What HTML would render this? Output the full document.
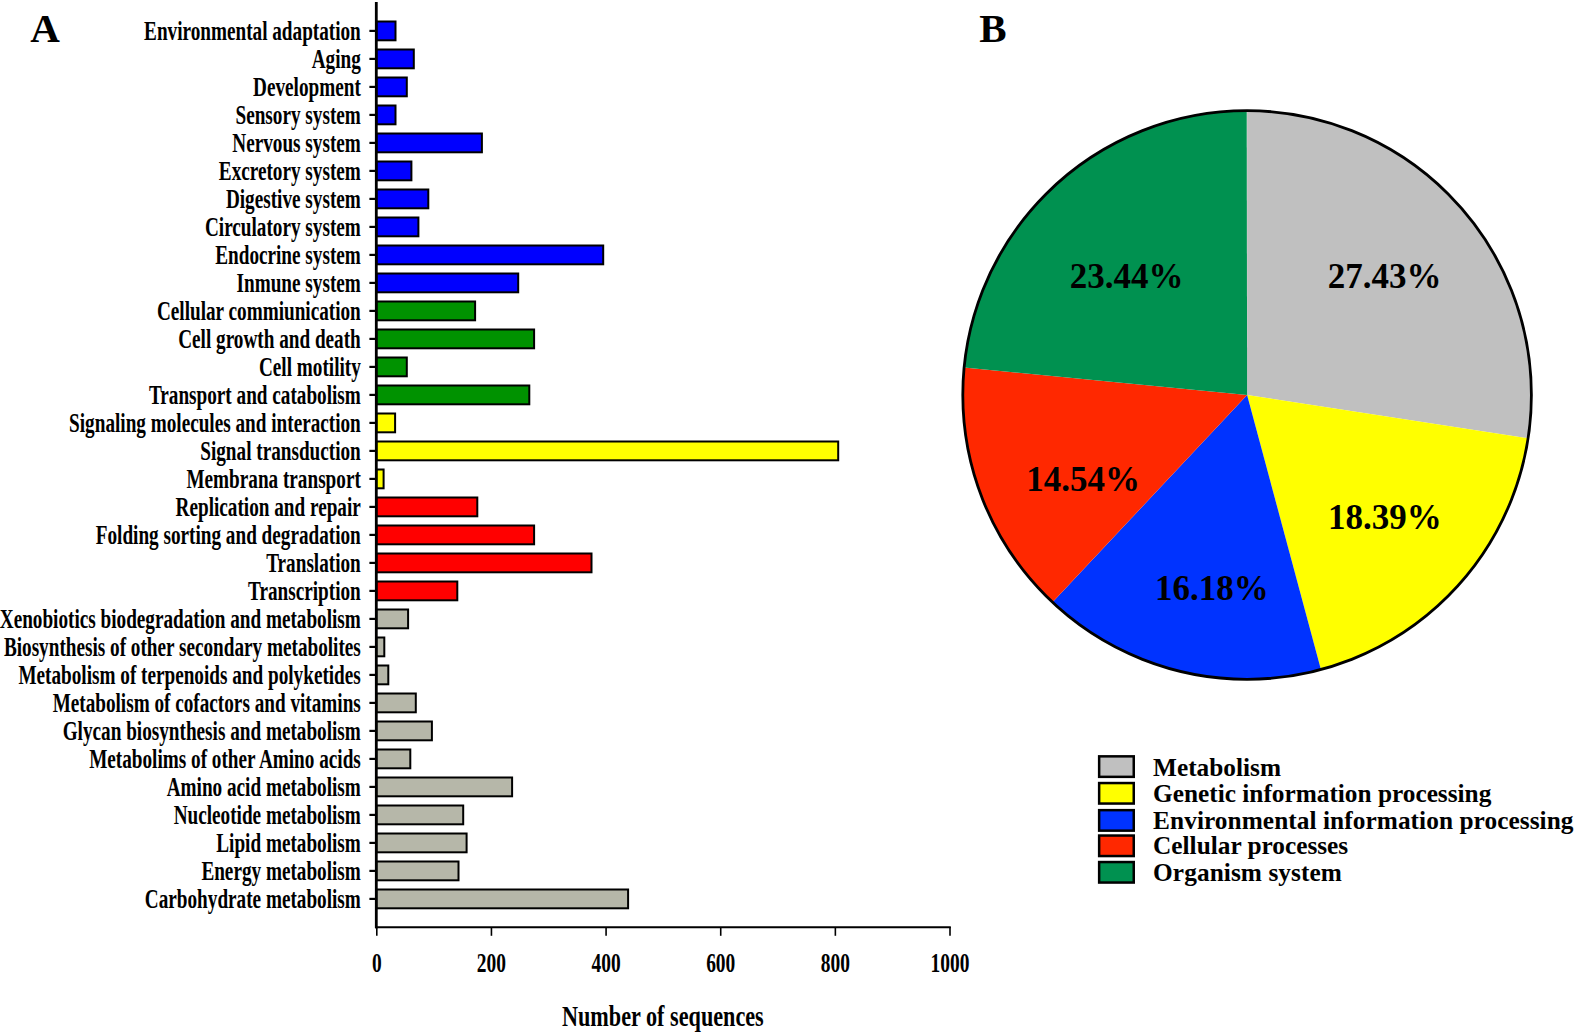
<!DOCTYPE html><html><head><meta charset="utf-8"><style>html,body{margin:0;padding:0;background:#fff;}svg{display:block}text{font-family:"Liberation Serif",serif;font-weight:bold;fill:#000}</style></head><body>
<svg width="1575" height="1034" viewBox="0 0 1575 1034">
<text x="30.3" y="41.75" font-size="41">A</text>
<text x="979.2" y="41.75" font-size="41">B</text>
<rect x="376.30" y="21.50" width="19.20" height="18.80" fill="#0000FF" stroke="#000" stroke-width="2.0"/>
<line x1="369.4" y1="30.90" x2="376.30" y2="30.90" stroke="#000" stroke-width="2.2"/>
<text transform="translate(360.8,40.10) scale(0.725,1)" text-anchor="end" font-size="26.5">Environmental adaptation</text>
<rect x="376.30" y="49.50" width="37.50" height="18.80" fill="#0000FF" stroke="#000" stroke-width="2.0"/>
<line x1="369.4" y1="58.90" x2="376.30" y2="58.90" stroke="#000" stroke-width="2.2"/>
<text transform="translate(360.8,68.10) scale(0.725,1)" text-anchor="end" font-size="26.5">Aging</text>
<rect x="376.30" y="77.50" width="30.50" height="18.80" fill="#0000FF" stroke="#000" stroke-width="2.0"/>
<line x1="369.4" y1="86.90" x2="376.30" y2="86.90" stroke="#000" stroke-width="2.2"/>
<text transform="translate(360.8,96.10) scale(0.725,1)" text-anchor="end" font-size="26.5">Development</text>
<rect x="376.30" y="105.50" width="19.20" height="18.80" fill="#0000FF" stroke="#000" stroke-width="2.0"/>
<line x1="369.4" y1="114.90" x2="376.30" y2="114.90" stroke="#000" stroke-width="2.2"/>
<text transform="translate(360.8,124.10) scale(0.725,1)" text-anchor="end" font-size="26.5">Sensory system</text>
<rect x="376.30" y="133.50" width="105.60" height="18.80" fill="#0000FF" stroke="#000" stroke-width="2.0"/>
<line x1="369.4" y1="142.90" x2="376.30" y2="142.90" stroke="#000" stroke-width="2.2"/>
<text transform="translate(360.8,152.10) scale(0.725,1)" text-anchor="end" font-size="26.5">Nervous system</text>
<rect x="376.30" y="161.50" width="35.10" height="18.80" fill="#0000FF" stroke="#000" stroke-width="2.0"/>
<line x1="369.4" y1="170.90" x2="376.30" y2="170.90" stroke="#000" stroke-width="2.2"/>
<text transform="translate(360.8,180.10) scale(0.725,1)" text-anchor="end" font-size="26.5">Excretory system</text>
<rect x="376.30" y="189.50" width="52.00" height="18.80" fill="#0000FF" stroke="#000" stroke-width="2.0"/>
<line x1="369.4" y1="198.90" x2="376.30" y2="198.90" stroke="#000" stroke-width="2.2"/>
<text transform="translate(360.8,208.10) scale(0.725,1)" text-anchor="end" font-size="26.5">Digestive system</text>
<rect x="376.30" y="217.50" width="42.10" height="18.80" fill="#0000FF" stroke="#000" stroke-width="2.0"/>
<line x1="369.4" y1="226.90" x2="376.30" y2="226.90" stroke="#000" stroke-width="2.2"/>
<text transform="translate(360.8,236.10) scale(0.725,1)" text-anchor="end" font-size="26.5">Circulatory system</text>
<rect x="376.30" y="245.50" width="226.90" height="18.80" fill="#0000FF" stroke="#000" stroke-width="2.0"/>
<line x1="369.4" y1="254.90" x2="376.30" y2="254.90" stroke="#000" stroke-width="2.2"/>
<text transform="translate(360.8,264.10) scale(0.725,1)" text-anchor="end" font-size="26.5">Endocrine system</text>
<rect x="376.30" y="273.50" width="141.90" height="18.80" fill="#0000FF" stroke="#000" stroke-width="2.0"/>
<line x1="369.4" y1="282.90" x2="376.30" y2="282.90" stroke="#000" stroke-width="2.2"/>
<text transform="translate(360.8,292.10) scale(0.725,1)" text-anchor="end" font-size="26.5">Inmune system</text>
<rect x="376.30" y="301.50" width="98.80" height="18.80" fill="#009200" stroke="#000" stroke-width="2.0"/>
<line x1="369.4" y1="310.90" x2="376.30" y2="310.90" stroke="#000" stroke-width="2.2"/>
<text transform="translate(360.8,320.10) scale(0.725,1)" text-anchor="end" font-size="26.5">Cellular commiunication</text>
<rect x="376.30" y="329.50" width="157.80" height="18.80" fill="#009200" stroke="#000" stroke-width="2.0"/>
<line x1="369.4" y1="338.90" x2="376.30" y2="338.90" stroke="#000" stroke-width="2.2"/>
<text transform="translate(360.8,348.10) scale(0.725,1)" text-anchor="end" font-size="26.5">Cell growth and death</text>
<rect x="376.30" y="357.50" width="30.50" height="18.80" fill="#009200" stroke="#000" stroke-width="2.0"/>
<line x1="369.4" y1="366.90" x2="376.30" y2="366.90" stroke="#000" stroke-width="2.2"/>
<text transform="translate(360.8,376.10) scale(0.725,1)" text-anchor="end" font-size="26.5">Cell motility</text>
<rect x="376.30" y="385.50" width="153.00" height="18.80" fill="#009200" stroke="#000" stroke-width="2.0"/>
<line x1="369.4" y1="394.90" x2="376.30" y2="394.90" stroke="#000" stroke-width="2.2"/>
<text transform="translate(360.8,404.10) scale(0.725,1)" text-anchor="end" font-size="26.5">Transport and catabolism</text>
<rect x="376.30" y="413.50" width="18.80" height="18.80" fill="#FFFF00" stroke="#000" stroke-width="2.0"/>
<line x1="369.4" y1="422.90" x2="376.30" y2="422.90" stroke="#000" stroke-width="2.2"/>
<text transform="translate(360.8,432.10) scale(0.725,1)" text-anchor="end" font-size="26.5">Signaling molecules and interaction</text>
<rect x="376.30" y="441.50" width="461.90" height="18.80" fill="#FFFF00" stroke="#000" stroke-width="2.0"/>
<line x1="369.4" y1="450.90" x2="376.30" y2="450.90" stroke="#000" stroke-width="2.2"/>
<text transform="translate(360.8,460.10) scale(0.725,1)" text-anchor="end" font-size="26.5">Signal transduction</text>
<rect x="376.30" y="469.50" width="7.30" height="18.80" fill="#FFFF00" stroke="#000" stroke-width="2.0"/>
<line x1="369.4" y1="478.90" x2="376.30" y2="478.90" stroke="#000" stroke-width="2.2"/>
<text transform="translate(360.8,488.10) scale(0.725,1)" text-anchor="end" font-size="26.5">Membrana transport</text>
<rect x="376.30" y="497.50" width="101.00" height="18.80" fill="#FF0000" stroke="#000" stroke-width="2.0"/>
<line x1="369.4" y1="506.90" x2="376.30" y2="506.90" stroke="#000" stroke-width="2.2"/>
<text transform="translate(360.8,516.10) scale(0.725,1)" text-anchor="end" font-size="26.5">Replication and repair</text>
<rect x="376.30" y="525.50" width="157.80" height="18.80" fill="#FF0000" stroke="#000" stroke-width="2.0"/>
<line x1="369.4" y1="534.90" x2="376.30" y2="534.90" stroke="#000" stroke-width="2.2"/>
<text transform="translate(360.8,544.10) scale(0.725,1)" text-anchor="end" font-size="26.5">Folding sorting and degradation</text>
<rect x="376.30" y="553.50" width="215.20" height="18.80" fill="#FF0000" stroke="#000" stroke-width="2.0"/>
<line x1="369.4" y1="562.90" x2="376.30" y2="562.90" stroke="#000" stroke-width="2.2"/>
<text transform="translate(360.8,572.10) scale(0.725,1)" text-anchor="end" font-size="26.5">Translation</text>
<rect x="376.30" y="581.50" width="81.00" height="18.80" fill="#FF0000" stroke="#000" stroke-width="2.0"/>
<line x1="369.4" y1="590.90" x2="376.30" y2="590.90" stroke="#000" stroke-width="2.2"/>
<text transform="translate(360.8,600.10) scale(0.725,1)" text-anchor="end" font-size="26.5">Transcription</text>
<rect x="376.30" y="609.50" width="31.80" height="18.80" fill="#B6B7A9" stroke="#000" stroke-width="2.0"/>
<line x1="369.4" y1="618.90" x2="376.30" y2="618.90" stroke="#000" stroke-width="2.2"/>
<text transform="translate(360.8,628.10) scale(0.725,1)" text-anchor="end" font-size="26.5">Xenobiotics biodegradation and metabolism</text>
<rect x="376.30" y="637.50" width="8.00" height="18.80" fill="#B6B7A9" stroke="#000" stroke-width="2.0"/>
<line x1="369.4" y1="646.90" x2="376.30" y2="646.90" stroke="#000" stroke-width="2.2"/>
<text transform="translate(360.8,656.10) scale(0.725,1)" text-anchor="end" font-size="26.5">Biosynthesis of other secondary metabolites</text>
<rect x="376.30" y="665.50" width="12.00" height="18.80" fill="#B6B7A9" stroke="#000" stroke-width="2.0"/>
<line x1="369.4" y1="674.90" x2="376.30" y2="674.90" stroke="#000" stroke-width="2.2"/>
<text transform="translate(360.8,684.10) scale(0.725,1)" text-anchor="end" font-size="26.5">Metabolism of terpenoids and polyketides</text>
<rect x="376.30" y="693.50" width="39.50" height="18.80" fill="#B6B7A9" stroke="#000" stroke-width="2.0"/>
<line x1="369.4" y1="702.90" x2="376.30" y2="702.90" stroke="#000" stroke-width="2.2"/>
<text transform="translate(360.8,712.10) scale(0.725,1)" text-anchor="end" font-size="26.5">Metabolism of cofactors and vitamins</text>
<rect x="376.30" y="721.50" width="55.60" height="18.80" fill="#B6B7A9" stroke="#000" stroke-width="2.0"/>
<line x1="369.4" y1="730.90" x2="376.30" y2="730.90" stroke="#000" stroke-width="2.2"/>
<text transform="translate(360.8,740.10) scale(0.725,1)" text-anchor="end" font-size="26.5">Glycan biosynthesis and metabolism</text>
<rect x="376.30" y="749.50" width="34.00" height="18.80" fill="#B6B7A9" stroke="#000" stroke-width="2.0"/>
<line x1="369.4" y1="758.90" x2="376.30" y2="758.90" stroke="#000" stroke-width="2.2"/>
<text transform="translate(360.8,768.10) scale(0.725,1)" text-anchor="end" font-size="26.5">Metabolims of other Amino acids</text>
<rect x="376.30" y="777.50" width="135.80" height="18.80" fill="#B6B7A9" stroke="#000" stroke-width="2.0"/>
<line x1="369.4" y1="786.90" x2="376.30" y2="786.90" stroke="#000" stroke-width="2.2"/>
<text transform="translate(360.8,796.10) scale(0.725,1)" text-anchor="end" font-size="26.5">Amino acid metabolism</text>
<rect x="376.30" y="805.50" width="86.90" height="18.80" fill="#B6B7A9" stroke="#000" stroke-width="2.0"/>
<line x1="369.4" y1="814.90" x2="376.30" y2="814.90" stroke="#000" stroke-width="2.2"/>
<text transform="translate(360.8,824.10) scale(0.725,1)" text-anchor="end" font-size="26.5">Nucleotide metabolism</text>
<rect x="376.30" y="833.50" width="90.30" height="18.80" fill="#B6B7A9" stroke="#000" stroke-width="2.0"/>
<line x1="369.4" y1="842.90" x2="376.30" y2="842.90" stroke="#000" stroke-width="2.2"/>
<text transform="translate(360.8,852.10) scale(0.725,1)" text-anchor="end" font-size="26.5">Lipid metabolism</text>
<rect x="376.30" y="861.50" width="82.20" height="18.80" fill="#B6B7A9" stroke="#000" stroke-width="2.0"/>
<line x1="369.4" y1="870.90" x2="376.30" y2="870.90" stroke="#000" stroke-width="2.2"/>
<text transform="translate(360.8,880.10) scale(0.725,1)" text-anchor="end" font-size="26.5">Energy metabolism</text>
<rect x="376.30" y="889.50" width="251.80" height="18.80" fill="#B6B7A9" stroke="#000" stroke-width="2.0"/>
<line x1="369.4" y1="898.90" x2="376.30" y2="898.90" stroke="#000" stroke-width="2.2"/>
<text transform="translate(360.8,908.10) scale(0.725,1)" text-anchor="end" font-size="26.5">Carbohydrate metabolism</text>
<line x1="376.3" y1="2" x2="376.3" y2="928.2" stroke="#000" stroke-width="2.8"/>
<line x1="375" y1="927.2" x2="950.8" y2="927.2" stroke="#000" stroke-width="2"/>
<line x1="376.80" y1="927" x2="376.80" y2="935.8" stroke="#000" stroke-width="1.6"/>
<text transform="translate(376.80,971.6) scale(0.71,1)" text-anchor="middle" font-size="27.4">0</text>
<line x1="491.44" y1="927" x2="491.44" y2="935.8" stroke="#000" stroke-width="1.6"/>
<text transform="translate(491.44,971.6) scale(0.71,1)" text-anchor="middle" font-size="27.4">200</text>
<line x1="606.08" y1="927" x2="606.08" y2="935.8" stroke="#000" stroke-width="1.6"/>
<text transform="translate(606.08,971.6) scale(0.71,1)" text-anchor="middle" font-size="27.4">400</text>
<line x1="720.72" y1="927" x2="720.72" y2="935.8" stroke="#000" stroke-width="1.6"/>
<text transform="translate(720.72,971.6) scale(0.71,1)" text-anchor="middle" font-size="27.4">600</text>
<line x1="835.36" y1="927" x2="835.36" y2="935.8" stroke="#000" stroke-width="1.6"/>
<text transform="translate(835.36,971.6) scale(0.71,1)" text-anchor="middle" font-size="27.4">800</text>
<line x1="950.00" y1="927" x2="950.00" y2="935.8" stroke="#000" stroke-width="1.6"/>
<text transform="translate(950.00,971.6) scale(0.71,1)" text-anchor="middle" font-size="27.4">1000</text>
<text transform="translate(562,1025.5) scale(0.74,1)" font-size="30">Number of sequences</text>
<path d="M1247.10,395.00 L1247.10,110.70 A284.3,284.3 0 0 1 1528.09,438.24 Z" fill="#C0C0C0"/>
<path d="M1247.10,395.00 L1528.09,438.24 A284.3,284.3 0 0 1 1320.91,669.55 Z" fill="#FFFF00"/>
<path d="M1247.10,395.00 L1320.91,669.55 A284.3,284.3 0 0 1 1052.48,602.25 Z" fill="#0033FF"/>
<path d="M1247.10,395.00 L1052.48,602.25 A284.3,284.3 0 0 1 964.13,367.53 Z" fill="#FF2800"/>
<path d="M1247.10,395.00 L964.13,367.53 A284.3,284.3 0 0 1 1246.74,110.70 Z" fill="#009150"/>
<circle cx="1247.1" cy="395.0" r="284.3" fill="none" stroke="#000" stroke-width="2.8"/>
<text x="1327.7" y="287.8" font-size="35">27.43%</text>
<text x="1069.7" y="287.8" font-size="35">23.44%</text>
<text x="1026.3" y="491" font-size="35">14.54%</text>
<text x="1327.9" y="529.2" font-size="35">18.39%</text>
<text x="1155" y="600.1" font-size="35">16.18%</text>
<rect x="1099.15" y="756.35" width="34.60" height="20.50" fill="#C0C0C0" stroke="#000" stroke-width="2.5"/>
<text x="1153.1" y="775.7" font-size="25.3">Metabolism</text>
<rect x="1099.15" y="783.05" width="34.60" height="20.50" fill="#FFFF00" stroke="#000" stroke-width="2.5"/>
<text x="1153.1" y="802.2" font-size="25.3">Genetic information processing</text>
<rect x="1099.15" y="810.15" width="34.60" height="20.50" fill="#0033FF" stroke="#000" stroke-width="2.5"/>
<text x="1153.1" y="829.2" font-size="25.3" textLength="420.4" lengthAdjust="spacing">Environmental information processing</text>
<rect x="1099.15" y="835.55" width="34.60" height="20.50" fill="#FF2800" stroke="#000" stroke-width="2.5"/>
<text x="1153.1" y="854.3" font-size="25.3">Cellular processes</text>
<rect x="1099.15" y="862.05" width="34.60" height="20.50" fill="#009150" stroke="#000" stroke-width="2.5"/>
<text x="1153.1" y="880.7" font-size="25.3" textLength="188.8" lengthAdjust="spacing">Organism system</text>
</svg></body></html>
